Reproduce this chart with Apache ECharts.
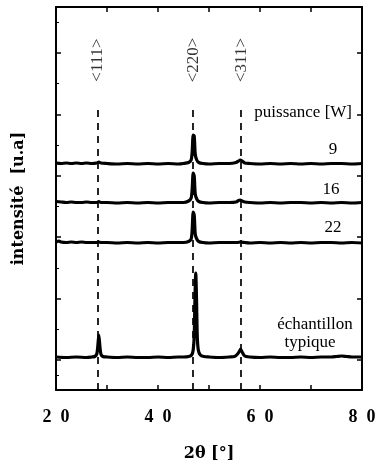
<!DOCTYPE html>
<html>
<head>
<meta charset="utf-8">
<script src="https://cdn.jsdelivr.net/npm/echarts@6/dist/echarts.min.js"></script>
<style>html,body{margin:0;padding:0;background:#fff;}#c{width:376px;height:465px;}</style>
</head>
<body>
<div id="c"></div>
<script>
// ---- data (intensities in arbitrary units) ----
const seriesNames = ['9', '16', '22', 'échantillon typique'];
const traceOffsets = [196, 157, 117, 2];       // vertical stacking offset of each pattern
const hklLabels = ['<111>', '<220>', '<311>'];
const hklPositions = [28.2, 46.9, 56.3];       // 2θ of the reference reflections
const xTicks = [20, 40, 60, 80];
const yMajorTicks = [0, 61.4, 122.8, 184.2, 245.6, 307];
const yMinorTicks = [-15.4, 30.7, 92.1, 153.5, 214.9, 276.3, 337.7];

const angles9  = [20,21,22,23,24,25,26,27,28,28.4,28.8,30,32,34,36,38,40,42,44,45,46,46.5,46.7,46.9,47.1,47.3,47.6,48,48.8,50,52,54,55.3,55.8,56.1,56.5,57,58,60,62,64,66,68,70,72,74,76,78,80];
const inten9   = [1,0.5,1,0.5,1,0.5,1,0.5,1,2,1,0.5,0,0.5,0,0.5,0,0.5,0,0.5,1.5,4,12,29,28,10,4,1.5,0.5,0,0.5,0.5,1.5,3,4,3,1,0.5,0,0.5,0,0.5,0,0.5,0,0.5,0.5,0,0.5];

const angles16 = [20,21,22,23,24,25,26,27,28,28.4,28.8,30,32,34,36,38,40,42,44,45,46,46.5,46.7,46.9,47.1,47.3,47.6,48,48.8,50,52,54,55.3,55.8,56.1,56.5,57,58,60,62,64,66,68,70,72,74,76,78,80];
const inten16  = [1.5,1,0.5,1,0.5,0.5,1,0.5,0.5,1.5,0.5,0.5,0,0.5,0,0.5,0,0.5,0.5,0.5,2,5,14,30,27,9,4,1.5,0.5,0,0.5,0.5,1,2.5,3,2,1,0.5,0,0.5,0,0.5,0.5,0,0.5,0,0.5,0,0.5];

const angles22 = [20,20.6,21,22,23,24,25,26,27,28,28.4,28.8,30,32,34,36,38,40,42,44,45,46,46.5,46.7,46.9,47.1,47.3,47.6,48,48.8,50,52,54,55.5,56.2,57,58,60,62,64,66,68,70,72,74,76,78,80];
const inten22  = [1,2,1,0.5,1,0.5,1,0.5,0.5,0.5,1,0.5,0.5,0,0.5,0,0.5,0,0.5,0.5,0.5,1.5,4,13,31,28,9,4,1.5,0.5,0,0.5,0.5,0.5,1,0.5,0,0.5,0,0.5,0,0.5,0,0.5,0.5,0,0.5,0];

const anglesTyp = [20,22,24,26,27,27.6,28,28.2,28.4,28.6,28.8,29.2,30,32,34,36,38,40,42,44,45,46,46.6,46.9,47.1,47.25,47.4,47.55,47.7,47.9,48.3,49,50,52,54,55,55.6,56,56.2,56.5,57,58,60,62,64,66,68,70,72,74,75,76,77,78,80];
const intenTyp  = [1,0.5,1,0.5,1,1.5,4,12,23,12,4,1.5,1,0.5,1,0.5,0.5,1,0.5,1,1,1.5,3,8,22,60,85,60,22,8,3,1.5,1,0.5,1,1.5,4,7,9,6,2,1,0.5,1,0.5,0.5,1,0.5,1,1,1.5,2,1.5,1,1];

const angleArrays = [angles9, angles16, angles22, anglesTyp];
const intenArrays = [inten9, inten16, inten22, intenTyp];

// ---- chart ----
const chart = echarts.init(document.getElementById('c'), null, {renderer: 'canvas'});
const serif = 'Liberation Serif, Times New Roman, serif';
const boldSerif = 'DejaVu Serif, serif';

const lineSeries = seriesNames.map((name, k) => ({
  name: name,
  type: 'line',
  data: angleArrays[k].map((a, i) => [a, intenArrays[k][i] + traceOffsets[k]]),
  showSymbol: false,
  smooth: 0.25,
  clip: false,
  lineStyle: {color: '#000', width: 3.2},
  z: 5
}));

const dashTop = 255;
const dashBottom = -30;
lineSeries[0].markLine = {
  silent: true,
  symbol: ['none', 'none'],
  label: {show: false},
  lineStyle: {color: '#000', type: [7, 6], width: 1.7},
  data: hklPositions.map(p => [{coord: [p, dashBottom]}, {coord: [p, dashTop]}])
};

const hklSeries = {
  type: 'scatter',
  symbolSize: 0,
  data: hklPositions.map((p, i) => ({value: [p, 300], name: hklLabels[i]})),
  label: {
    show: true,
    position: 'inside',
    rotate: 90,
    formatter: p => p.name,
    color: '#000',
    fontFamily: serif,
    fontSize: 17
  },
  z: 6
};

const tickCommon = {show: true, inside: true, length: 5, lineStyle: {color: '#000', width: 1.5}};
const lineCommon = {show: true, onZero: false, lineStyle: {color: '#000', width: 2}};

chart.setOption({
  animation: false,
  backgroundColor: '#fff',
  grid: {left: 56, right: 14, top: 7, bottom: 75, containLabel: false, outerBoundsMode: 'none'},
  xAxis: [{
    type: 'value', min: 20, max: 80, interval: 10, position: 'bottom',
    axisLine: lineCommon, axisTick: tickCommon, splitLine: {show: false},
    axisLabel: {
      margin: 18, color: '#000', fontFamily: serif, fontWeight: 'bold', fontSize: 18,
      formatter: v => xTicks.includes(v) ? String(v).split('').join('  ') : ''
    },
    name: '2θ [°]', nameLocation: 'middle', nameGap: 56,
    nameTextStyle: {color: '#000', fontFamily: boldSerif, fontWeight: 'bold', fontSize: 16}
  }, {
    type: 'value', min: 20, max: 80, interval: 10, position: 'top',
    axisLine: lineCommon, axisTick: tickCommon, axisLabel: {show: false}, splitLine: {show: false}
  }],
  yAxis: [{
    type: 'value', min: -30, max: 353, position: 'left',
    axisLine: lineCommon,
    axisTick: Object.assign({}, tickCommon, {customValues: yMajorTicks}),
    axisLabel: {show: false}, splitLine: {show: false},
    name: 'intensité  [u.a]', nameLocation: 'middle', nameGap: 29,
    nameTextStyle: {color: '#000', fontFamily: boldSerif, fontWeight: 'bold', fontSize: 16}
  }, {
    type: 'value', min: -30, max: 353, position: 'right',
    axisLine: lineCommon,
    axisTick: Object.assign({}, tickCommon, {customValues: yMajorTicks}),
    axisLabel: {show: false}, splitLine: {show: false}
  }, {
    type: 'value', min: -30, max: 353, position: 'left',
    axisLine: {show: false},
    axisTick: {show: true, inside: true, length: 3, lineStyle: {color: '#000', width: 1}, customValues: yMinorTicks},
    axisLabel: {show: false}, splitLine: {show: false}
  }],
  series: lineSeries.concat([hklSeries]),
  graphic: [
    {type: 'text', x: 352, y: 113, style: {text: 'puissance [W]', font: '17px ' + serif, fill: '#000', textAlign: 'right', textVerticalAlign: 'middle'}},
    {type: 'text', x: 333, y: 150, style: {text: seriesNames[0], font: '17px ' + serif, fill: '#000', textAlign: 'center', textVerticalAlign: 'middle'}},
    {type: 'text', x: 331, y: 190, style: {text: seriesNames[1], font: '17px ' + serif, fill: '#000', textAlign: 'center', textVerticalAlign: 'middle'}},
    {type: 'text', x: 333, y: 228, style: {text: seriesNames[2], font: '17px ' + serif, fill: '#000', textAlign: 'center', textVerticalAlign: 'middle'}},
    {type: 'text', x: 315, y: 325, style: {text: seriesNames[3].split(' ')[0], font: '17px ' + serif, fill: '#000', textAlign: 'center', textVerticalAlign: 'middle'}},
    {type: 'text', x: 310, y: 343, style: {text: seriesNames[3].split(' ')[1], font: '17px ' + serif, fill: '#000', textAlign: 'center', textVerticalAlign: 'middle'}}
  ]
});
</script>
</body>
</html>
